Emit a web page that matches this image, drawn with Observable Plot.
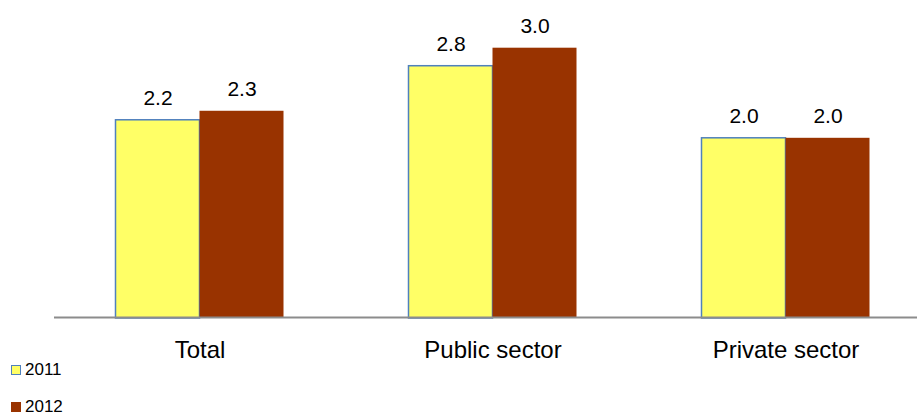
<!DOCTYPE html>
<html>
<head>
<meta charset="utf-8">
<script src="https://cdn.jsdelivr.net/npm/d3@7"></script>
<script src="https://cdn.jsdelivr.net/npm/@observablehq/plot@0.6"></script>
<style>
  body { margin: 0; background: #fff; font-family: "Liberation Sans", Arial, sans-serif; }
  #chart svg { overflow: visible; display: block; }
  .legend { padding-left: 11px; }
  .legend .row { height: 37px; line-height: 37px; font-size: 17px; color: #000; display: flex; align-items: center; }
  .legend .sw { width: 10px; height: 10px; box-sizing: border-box; margin-right: 4px; }
</style>
</head>
<body>
<div id="chart"></div>
<script>
// Categories and yearly values
const categories = ["Total", "Public sector", "Private sector"];
const values2011 = [2.2, 2.8, 2.0];
const values2012 = [2.3, 3.0, 2.0];
const years = ["2011", "2012"];

const color2011 = "#FFFF66";
const border2011 = "#4F81BD";
const color2012 = "#993300";

const rows2011 = categories.map((c, i) => ({category: c, value: values2011[i]}));
const rows2012 = categories.map((c, i) => ({category: c, value: values2012[i]}));

// Each category band is 293px wide; the two bars (84px each) sit in its middle
const barW = 84;
const outer = (293 - 2 * barW) / 2;

const chart = Plot.plot({
  width: 918,
  height: 351,
  marginLeft: 54,
  marginRight: 1,
  marginTop: 0,
  marginBottom: 33,
  style: {fontFamily: "Liberation Sans, Arial, sans-serif", fontSize: "24px", color: "#000", background: "#fff"},
  x: {domain: categories, range: [52.5, 931.5], padding: 0, tickSize: 0, tickPadding: 22, label: null},
  y: {domain: [0, 3], range: [318, 47.7], axis: null},
  marks: [
    Plot.barY(rows2011, {x: "category", y: "value", fill: color2011, stroke: border2011, strokeWidth: 1.5,
      insetLeft: outer, insetRight: outer + barW}),
    Plot.barY(rows2012, {x: "category", y: "value", fill: color2012,
      insetLeft: outer + barW, insetRight: outer}),
    Plot.ruleY([0], {stroke: "#8c8c8c", strokeWidth: 2, dy: -1}),
    Plot.text(rows2011, {x: "category", y: "value", text: d => d.value.toFixed(1), dx: -barW / 2, dy: -15,
      lineAnchor: "bottom", fontSize: 21, fill: "#000"}),
    Plot.text(rows2012, {x: "category", y: "value", text: d => d.value.toFixed(1), dx: barW / 2, dy: -15,
      lineAnchor: "bottom", fontSize: 21, fill: "#000"})
  ]
});
document.getElementById("chart").appendChild(chart);

// Legend below the plot
const legend = document.createElement("div");
legend.className = "legend";
years.forEach((y, i) => {
  const row = document.createElement("div");
  row.className = "row";
  const sw = document.createElement("span");
  sw.className = "sw";
  sw.style.background = i === 0 ? color2011 : color2012;
  if (i === 0) sw.style.border = `1.5px solid ${border2011}`;
  row.appendChild(sw);
  row.appendChild(document.createTextNode(y));
  legend.appendChild(row);
});
document.body.appendChild(legend);
</script>
</body>
</html>
